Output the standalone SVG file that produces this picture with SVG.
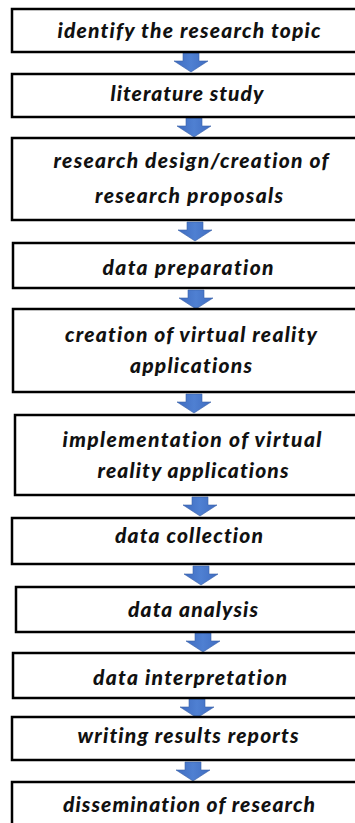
<svg xmlns="http://www.w3.org/2000/svg" width="355" height="823" viewBox="0 0 355 823">
  <defs>
    <linearGradient id="arrowFill" x1="0" y1="0" x2="1" y2="0">
      <stop offset="0" stop-color="#3F6CC0"/>
      <stop offset="0.5" stop-color="#4F80D2"/>
      <stop offset="1" stop-color="#3F6CC0"/>
    </linearGradient>
    <!-- block arrow pointing down, origin at top centre -->
    <path id="blockArrow" d="M-8,0 H8 V8 H17 L0,19 L-17,8 H-8 Z"/>
  </defs>
  <style>
    .box { fill: #ffffff; stroke: #000000; stroke-width: 2.5; }
    .label { font-family: Lato, "Open Sans", "DejaVu Sans", sans-serif; font-size: 21px; font-weight: 900; font-style: italic; fill: #111111; text-anchor: middle; font-variant-ligatures: none; }
    .arrow { fill: url(#arrowFill); stroke: #3A62A8; stroke-width: 0.6; }
  </style>
  <rect width="355" height="823" fill="#ffffff"/>

  <g id="connectors">
    <use href="#blockArrow" class="arrow" x="191" y="53"/>
    <use href="#blockArrow" class="arrow" x="194" y="118"/>
    <use href="#blockArrow" class="arrow" x="195" y="222"/>
    <use href="#blockArrow" class="arrow" x="196" y="290"/>
    <use href="#blockArrow" class="arrow" x="194" y="394"/>
    <use href="#blockArrow" class="arrow" x="200" y="497"/>
    <use href="#blockArrow" class="arrow" x="201" y="566"/>
    <use href="#blockArrow" class="arrow" x="203" y="633"/>
    <use href="#blockArrow" class="arrow" x="197" y="699"/>
    <use href="#blockArrow" class="arrow" x="193" y="762"/>
  </g>

  <g id="step-identify">
    <rect class="box" x="12" y="9" width="350" height="43"/>
    <text class="label" x="189" y="38" textLength="263">identify the research topic</text>
  </g>
  <g id="step-literature">
    <rect class="box" x="12" y="74" width="350" height="43"/>
    <text class="label" x="187" y="101" textLength="153">literature study</text>
  </g>
  <g id="step-design">
    <rect class="box" x="12" y="138" width="350" height="82"/>
    <text class="label" x="191" y="168" textLength="275">research design/creation of</text>
    <text class="label" x="189" y="203" textLength="188">research proposals</text>
  </g>
  <g id="step-preparation">
    <rect class="box" x="13" y="243" width="350" height="45"/>
    <text class="label" x="188" y="275" textLength="171">data preparation</text>
  </g>
  <g id="step-creation">
    <rect class="box" x="13" y="309" width="350" height="83"/>
    <text class="label" x="191" y="342" textLength="252">creation of virtual reality</text>
    <text class="label" x="191" y="373" textLength="122">applications</text>
  </g>
  <g id="step-implementation">
    <rect class="box" x="15" y="415" width="350" height="80"/>
    <text class="label" x="192" y="447" textLength="259">implementation of virtual</text>
    <text class="label" x="193" y="478" textLength="191">reality applications</text>
  </g>
  <g id="step-collection">
    <rect class="box" x="12" y="518" width="350" height="46"/>
    <text class="label" x="189" y="543" textLength="148">data collection</text>
  </g>
  <g id="step-analysis">
    <rect class="box" x="16" y="587" width="350" height="45"/>
    <text class="label" x="193" y="617" textLength="130">data analysis</text>
  </g>
  <g id="step-interpretation">
    <rect class="box" x="13" y="653" width="350" height="45"/>
    <text class="label" x="190" y="685" textLength="194">data interpretation</text>
  </g>
  <g id="step-writing">
    <rect class="box" x="12" y="717" width="350" height="43"/>
    <text class="label" x="188" y="743" textLength="221">writing results reports</text>
  </g>
  <g id="step-dissemination">
    <rect class="box" x="12" y="782" width="350" height="60"/>
    <text class="label" x="189" y="812" textLength="252">dissemination of research</text>
  </g>
</svg>
